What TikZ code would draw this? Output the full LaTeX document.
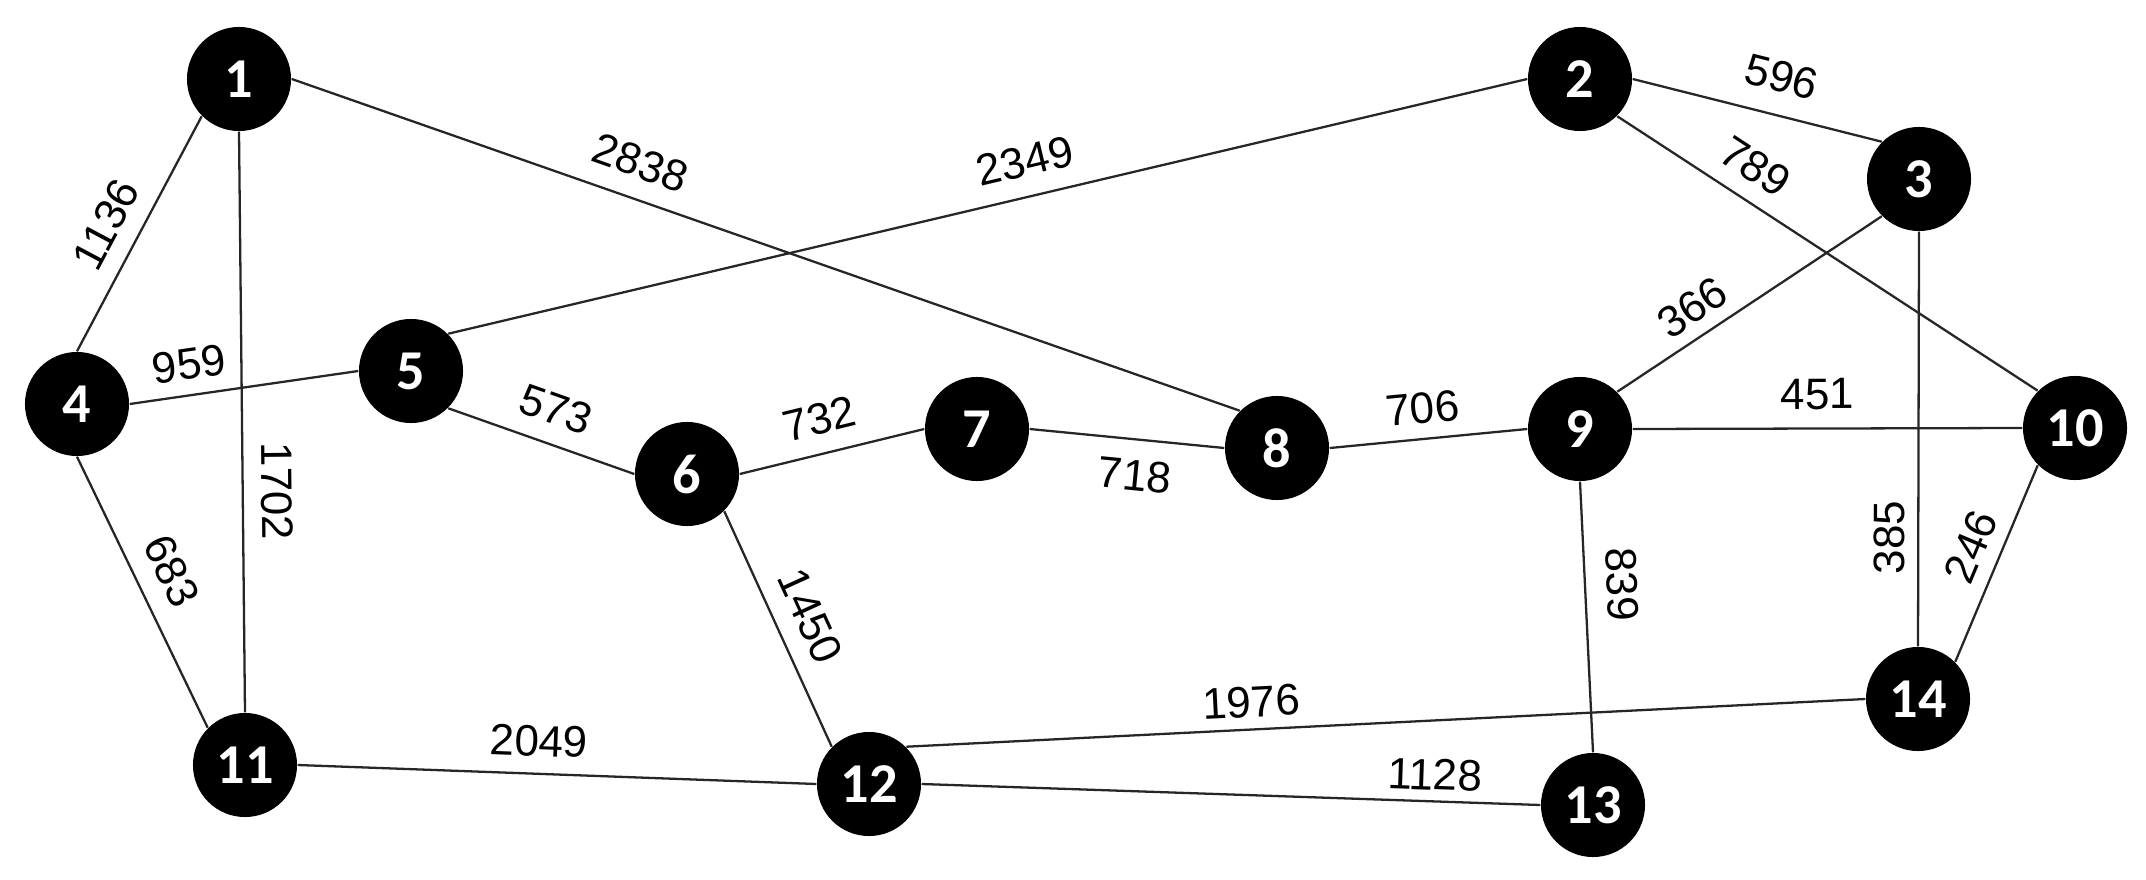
\documentclass[tikz,border=0pt]{standalone}
\usepackage{fontspec}
\setmainfont{Liberation Sans}
\newfontfamily\nodefont{Carlito}
\begin{document}
\begin{tikzpicture}[x=0.01cm, y=-0.01cm,
  vtx/.style={circle, fill=black, inner sep=0pt, minimum size=1.04cm, text=white, font=\nodefont\bfseries\fontsize{16}{16}\selectfont},
  lnk/.style={line width=0.65pt, draw=black!85},
  lab/.style={sloped, allow upside down, font=\fontsize{12.5}{14}\selectfont, inner sep=0pt}]
\useasboundingbox (0,0) rectangle (2146,879);
\node[vtx] (n1)  at (239,79)   {1};
\node[vtx] (n2)  at (1580,79)  {2};
\node[vtx] (n3)  at (1919,179) {3};
\node[vtx] (n4)  at (77,404)   {4};
\node[vtx] (n5)  at (411,371)  {5};
\node[vtx] (n6)  at (687,474)  {6};
\node[vtx] (n7)  at (977,429)  {7};
\node[vtx] (n8)  at (1277,448) {8};
\node[vtx] (n9)  at (1580,429) {9};
\node[vtx] (n10) at (2075,428) {10};
\node[vtx] (n11) at (245,765)  {11};
\node[vtx] (n12) at (869,784)  {12};
\node[vtx] (n13) at (1593,805) {13};
\node[vtx] (n14) at (1918,699) {14};
\draw[lnk] (n4.north) -- node[lab, pos=0.472, above=4.9pt] {1136} (n1.south west);
\draw[lnk] (n1.south) -- node[lab, pos=0.62, above=5pt] {1702} (n11.north);
\draw[lnk] (n4.south) -- node[lab, pos=0.478, above=5.4pt] {683} (n11.north west);
\draw[lnk] (n4.east) -- node[lab, pos=0.279, above=4.1pt] {959} (n5.west);
\draw[lnk] (n1.east) -- node[lab, pos=0.355, above=5.5pt] {2838} (n8.north west);
\draw[lnk] (n5.north east) -- node[lab, pos=0.542, above=5.4pt] {2349} (n2.west);
\draw[lnk] (n5.south east) -- node[lab, pos=0.517, above=5.2pt] {573} (n6.west);
\draw[lnk] (n6.east) -- node[lab, pos=0.476, above=5.1pt] {732} (n7.west);
\draw[lnk] (n7.east) -- node[lab, pos=0.558, below=5.4pt] {718} (n8.west);
\draw[lnk] (n8.east) -- node[lab, pos=0.484, above=4pt] {706} (n9.west);
\draw[lnk] (n2.east) -- node[lab, pos=0.561, above=6.2pt] {596} (n3.north west);
\draw[lnk] (n2.south east) -- node[lab, pos=0.285, above=4.8pt] {789} (n10.north west);
\draw[lnk] (n9.north east) -- node[lab, pos=0.344, above=3.5pt] {366} (n3.south west);
\draw[lnk] (n9.east) -- node[lab, pos=0.474, above=5.1pt] {451} (n10.west);
\draw[lnk] (n14.north) -- node[lab, pos=0.262, above=3.4pt] {385} (n3.south);
\draw[lnk] (n14.north east) -- node[lab, pos=0.526, above=3.8pt] {246} (n10.south west);
\draw[lnk] (n9.south) -- node[lab, pos=0.385, above=5.8pt] {839} (n13.north);
\draw[lnk] (n6.south east) -- node[lab, pos=0.507, above=5.2pt] {1450} (n12.north west);
\draw[lnk] (n11.east) -- node[lab, pos=0.463, above=4.6pt] {2049} (n12.west);
\draw[lnk] (n12.north east) -- node[lab, pos=0.361, above=3.1pt] {1976} (n14.west);
\draw[lnk] (n12.east) -- node[lab, pos=0.828, above=2.8pt] {1128} (n13.west);
\end{tikzpicture}
\end{document}
